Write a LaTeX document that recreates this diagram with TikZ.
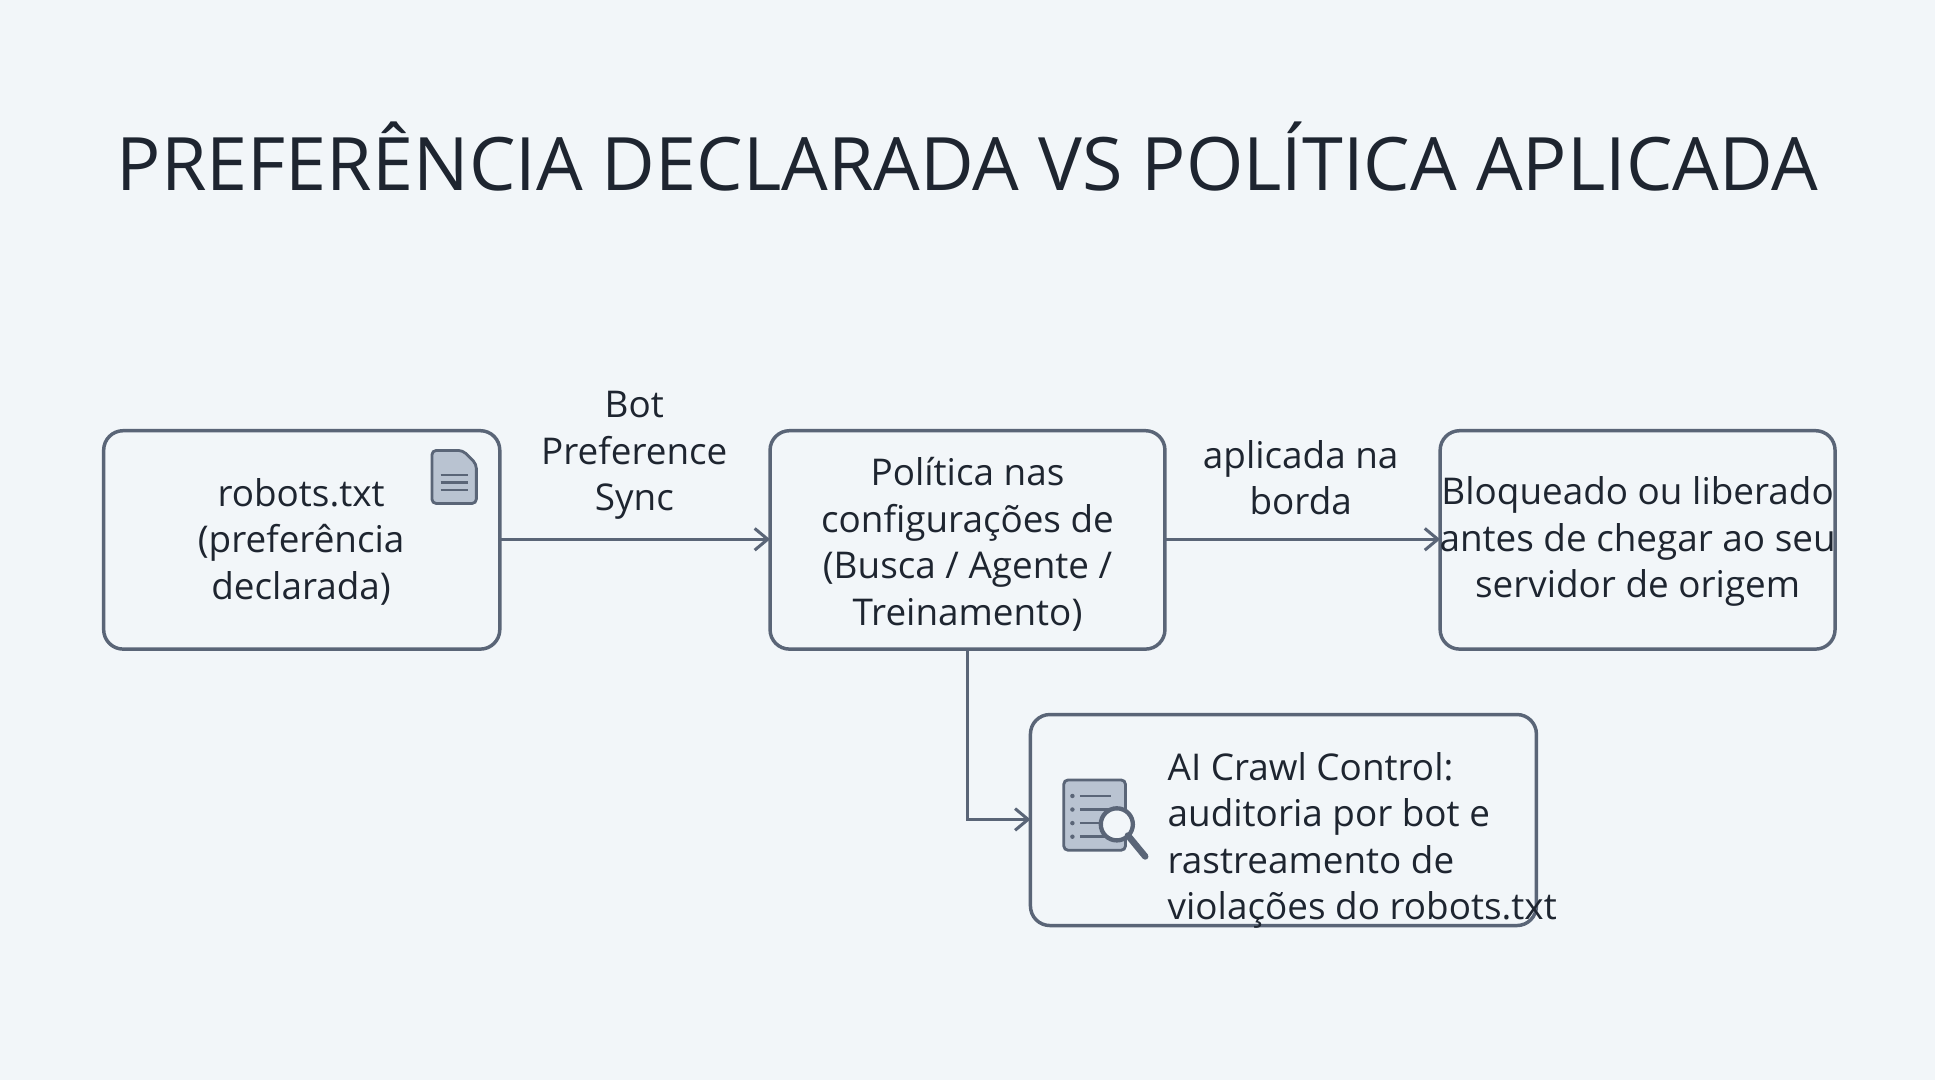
\documentclass[tikz,border=0pt]{standalone}
\usepackage{fontspec}
\setmainfont{Open Sans}
\usetikzlibrary{positioning,arrows.meta}
\definecolor{bgc}{HTML}{F2F6F9}
\definecolor{linec}{HTML}{5A6577}
\definecolor{txtc}{HTML}{1E2530}
\definecolor{iconc}{HTML}{8A9BB3}
\begin{document}
\begin{tikzpicture}[
        x=0.02cm, y=-0.02cm,
        box/.style={draw=linec, line width=1.6pt, rounded corners=9pt, fill=bgc},
        lbl/.style={text=txtc, font=\fontsize{17}{21.5}\selectfont, align=center},
        flow/.style={draw=linec, line width=1.4pt, ->, >={Straight Barb[length=6pt,width=10pt]}},
    ]
    \fill[bgc] (0,0) rectangle (1568,875);
    \node[text=txtc, font=\fontsize{34}{40}\selectfont] (title) at (784,127) {PREFERÊNCIA DECLARADA VS POLÍTICA APLICADA};
    % boxes
    \draw[box] (84,349) rectangle (405,526);
    \draw[box] (624,349) rectangle (944,526);
    \draw[box] (1167,349) rectangle (1487,526);
    \draw[box] (835,579) rectangle (1245,750);
    \coordinate (robots) at (405,437);
    \coordinate (politicaW) at (624,437);
    \coordinate (politicaE) at (944,437);
    \coordinate (politicaS) at (784,526);
    \coordinate (bordaW) at (1167,437);
    \coordinate (crawlW) at (835,664);
    \node[lbl] (robotsTxt) at (244,439) {robots.txt\\(preferência\\declarada)};
    \node[lbl] (politicaTxt) at (784,441) {Política nas\\configurações de\\(Busca / Agente /\\Treinamento)};
    \node[lbl] (bordaTxt) at (1327,439) {Bloqueado ou liberado\\antes de chegar ao seu\\servidor de origem};
    \node[lbl, align=left, anchor=west] (crawlTxt) at (940,681) {AI Crawl Control:\\auditoria por bot e\\rastreamento de\\violações do robots.txt};
    \node[lbl] (syncLbl) at (514,369) {Bot\\Preference\\Sync};
    \node[lbl] (bordaLbl) at (1054,387) {aplicada na\\borda};
    % connectors
    \draw[flow] (robots) -- (politicaW);
    \draw[flow] (politicaE) -- (bordaW);
    \draw[flow] (politicaS) |- (crawlW);
    % document icon
    \draw[linec, line width=1.3pt, fill=iconc!60, rounded corners=2pt] (350,365) -- (375,365) -- (386,376) -- (386,408) -- (350,408) -- cycle;
    \foreach \yy in {385,391,397} \draw[linec, line width=1.2pt] (357,\yy) -- (379,\yy);
    % audit icon
    \draw[linec, line width=1.3pt, fill=iconc!60, rounded corners=2pt] (862,632) rectangle (912,689);
    \foreach \yy in {645,656,667,678} {
        \fill[linec] (869,\yy) circle (1.8);
        \draw[linec, line width=1.2pt] (875,\yy) -- (900,\yy);
    }
    \draw[linec, line width=2pt, fill=bgc] (905,668) circle (13);
    \draw[linec, line width=3pt, line cap=round] (914,677) -- (928,694);
\end{tikzpicture}
\end{document}
